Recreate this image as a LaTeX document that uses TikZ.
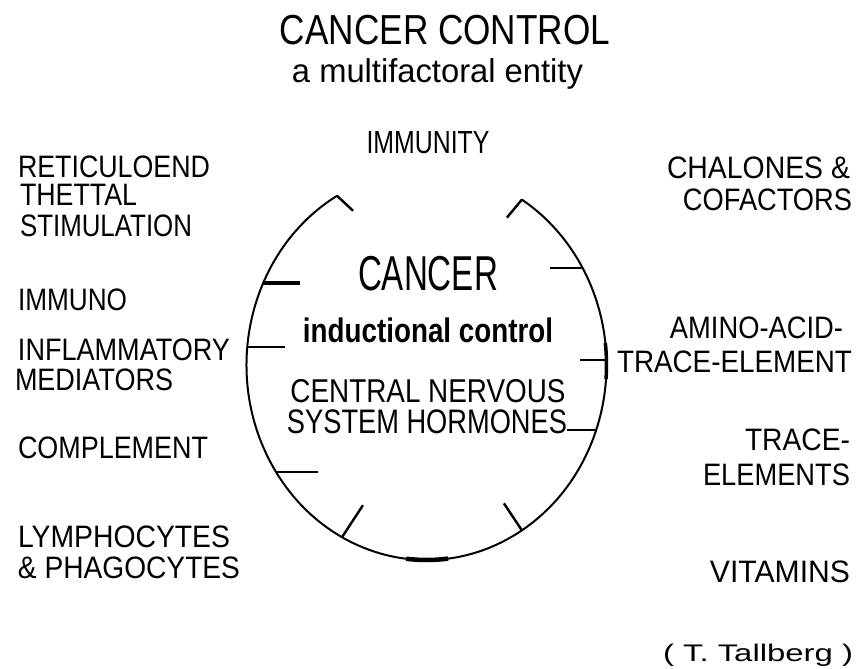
\documentclass[tikz,border=0pt]{standalone}
\usepackage{fontspec}
\setmainfont{Liberation Sans}
\usepackage{graphicx}
\newcommand{\fitw}[2]{\resizebox{#1pt}{\height}{#2}}
\begin{document}
\begin{tikzpicture}[x=1pt,y=-1pt,
  lbl/.style={inner sep=0pt, outer sep=0pt, font=\fontsize{31}{31}\selectfont},
  ring/.style={line width=2pt, line cap=round},
  tickln/.style={line width=2.4pt},
  tickthick/.style={line width=3.6pt}]
\useasboundingbox (0,0) rectangle (857,669);
\fill[white] (0,0) rectangle (857,669);

% title
\node[lbl, anchor=base, font=\fontsize{42}{42}\selectfont] (title) at (445,45) {\fitw{330}{CANCER CONTROL}};
\node[lbl, anchor=base, font=\fontsize{33}{33}\selectfont] (subtitle) at (437.5,83) {\fitw{291}{a multifactoral entity}};

% left column
\node[lbl, anchor=base west] (ret1) at (18,177) {\fitw{192}{RETICULOEND}};
\node[lbl, anchor=base west] (ret2) at (20,205) {\fitw{117}{THETTAL}};
\node[lbl, anchor=base west] (ret3) at (20,236) {\fitw{172}{STIMULATION}};
\node[lbl, anchor=base west] (imm1) at (18,310) {\fitw{109}{IMMUNO}};
\node[lbl, anchor=base west] (imm2) at (18,360) {\fitw{212}{INFLAMMATORY}};
\node[lbl, anchor=base west] (imm3) at (15,390) {\fitw{158}{MEDIATORS}};
\node[lbl, anchor=base west] (compl) at (18,458) {\fitw{190}{COMPLEMENT}};
\node[lbl, anchor=base west] (lym1) at (18,547) {\fitw{212}{LYMPHOCYTES}};
\node[lbl, anchor=base west] (lym2) at (18,578) {\fitw{222}{\& PHAGOCYTES}};

% right column
\node[lbl, anchor=base east] (cha1) at (850,178) {\fitw{183}{CHALONES \&}};
\node[lbl, anchor=base east] (cha2) at (852,210) {\fitw{169}{COFACTORS}};
\node[lbl, anchor=base east] (ami1) at (843,338) {\fitw{173}{AMINO-ACID-}};
\node[lbl, anchor=base east] (ami2) at (852,372) {\fitw{235}{TRACE-ELEMENT}};
\node[lbl, anchor=base east] (tra1) at (850,450) {\fitw{105}{TRACE-}};
\node[lbl, anchor=base east] (tra2) at (850,485) {\fitw{147}{ELEMENTS}};
\node[lbl, anchor=base east] (vit) at (850,582) {\fitw{140}{VITAMINS}};
\node[lbl, anchor=base east, font=\fontsize{24}{24}\selectfont] (auth) at (853,661) {\fitw{190}{( T. Tallberg )}};

% centre
\node[lbl, anchor=base, font=\fontsize{32}{32}\selectfont] (immunity) at (428,153) {\fitw{123}{IMMUNITY}};
\node[lbl, anchor=base, font=\fontsize{49}{49}\selectfont] (cancer) at (428,290) {\fitw{140}{CANCER}};
\node[lbl, anchor=base, font=\fontsize{34}{34}\selectfont\bfseries] (induct) at (428,342) {\fitw{250}{inductional control}};
\node[lbl, anchor=base, font=\fontsize{33}{33}\selectfont] (cns1) at (428,402) {\fitw{275}{CENTRAL NERVOUS}};
\node[lbl, anchor=base, font=\fontsize{34}{34}\selectfont] (cns2) at (427,433) {\fitw{280}{SYSTEM HORMONES}};

% ring
\coordinate (C) at (426.5,365);
\draw[ring] (C) ++(240.2:180 and 195) arc[start angle=240.2, end angle=-58, x radius=180, y radius=195];
\draw[line width=4.5pt] (C) ++(96.5:180 and 195) arc[start angle=96.5, end angle=83.1, x radius=180, y radius=195];
\draw[line width=3.5pt] (C) ++(-6.5:180 and 195) arc[start angle=-6.5, end angle=4.1, x radius=180, y radius=195];

% tick points on the ring
\path (C) ++(240.2:180 and 195) coordinate (pTL);
\path (C) ++(-58:180 and 195) coordinate (pTR);
\path (C) ++(204.9:180 and 195) coordinate (pL1);
\path (C) ++(185.3:180 and 195) coordinate (pL2);
\path (C) ++(146.7:180 and 195) coordinate (pL3);
\path (C) ++(118:180 and 195) coordinate (pBL);
\path (C) ++(58:180 and 195) coordinate (pBR);
\path (C) ++(19.5:180 and 195) coordinate (pR3);
\path (C) ++(-1.5:180 and 195) coordinate (pR2);
\path (C) ++(-29.8:180 and 195) coordinate (pR1);

\draw[tickln] (pTL) -- ++(16,15) coordinate (eTL);
\draw[tickln] (pTR) -- ++(-15,18) coordinate (eTR);
\draw[tickthick] (pL1) -- ++(37,0) coordinate (eL1);
\draw[tickln] (pL2) -- ++(38,0) coordinate (eL2);
\draw[tickln] (pL3) -- ++(42,0) coordinate (eL3);
\draw[tickln] (pBL) -- ++(21,-32) coordinate (eBL);
\draw[tickln] (pBR) -- ++(-18,-27) coordinate (eBR);
\draw[tickln] (pR3) -- ++(-29,0) coordinate (eR3);
\draw[tickln] (pR2) -- ++(-26,0) coordinate (eR2);
\draw[tickln] (pR1) -- ++(-33,0) coordinate (eR1);
\end{tikzpicture}
\end{document}
